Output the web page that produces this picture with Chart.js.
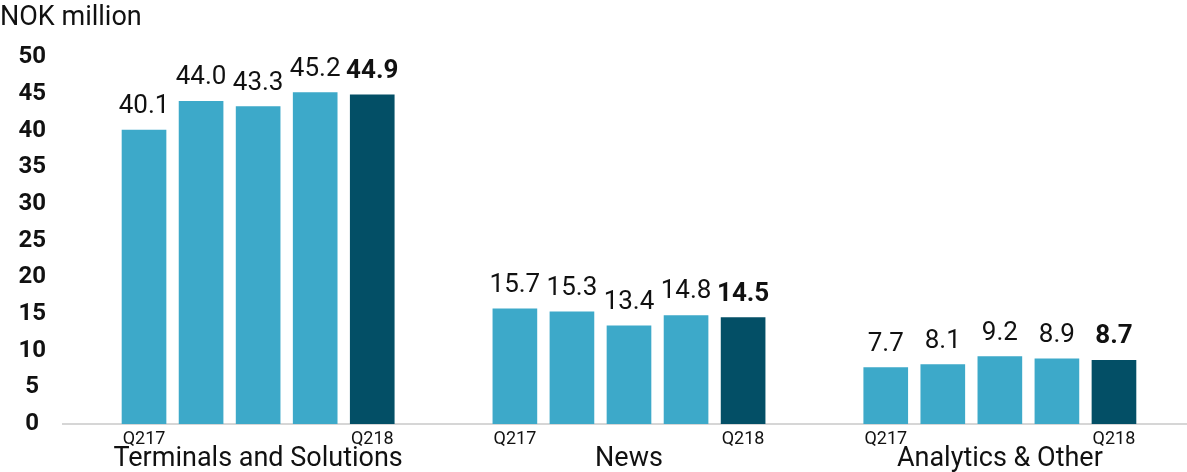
<!DOCTYPE html>
<html>
<head>
<meta charset="utf-8">
<script src="https://cdn.jsdelivr.net/npm/chart.js@4/dist/chart.umd.min.js"></script>
<style>
  html, body { margin: 0; padding: 0; background: #fff; }
  #wrap { width: 1187px; height: 472px; }
</style>
</head>
<body>
<div id="wrap"><canvas id="revenue"></canvas></div>
<script>
// Revenue by segment, NOK million, Q2 2017 - Q2 2018
const SEGMENTS = ['Terminals and Solutions', 'News', 'Analytics & Other'];
const QUARTER_LABELS = ['Q217', '', '', '', 'Q218'];
const TERMINALS = [40.1, 44.0, 43.3, 45.2, 44.9];
const NEWS = [15.7, 15.3, 13.4, 14.8, 14.5];
const ANALYTICS = [7.7, 8.1, 9.2, 8.9, 8.7];
const Y_TICKS = [0, 5, 10, 15, 20, 25, 30, 35, 40, 45, 50];

const COLOR_PAST = '#3DA9C9';
const COLOR_CURRENT = '#034F66';
const FONT = 'Roboto, "Liberation Sans", sans-serif';

// five bars per segment, segments separated by a wider gap
const GROUP_STEP = 6.5;
const seriesBySegment = [TERMINALS, NEWS, ANALYTICS];

const points = [];
const colors = [];
seriesBySegment.forEach((values, g) => {
    values.forEach((v, q) => {
        points.push({ x: g * GROUP_STEP + q, y: v, q: q });
        colors.push(q === values.length - 1 ? COLOR_CURRENT : COLOR_PAST);
    });
});

// value above each bar, latest quarter in bold
const valueLabels = {
    id: 'valueLabels',
    afterDatasetsDraw(chart) {
        const ctx = chart.ctx;
        const meta = chart.getDatasetMeta(0);
        ctx.save();
        ctx.fillStyle = '#111';
        ctx.textAlign = 'center';
        ctx.textBaseline = 'alphabetic';
        meta.data.forEach((bar, i) => {
            const p = points[i];
            ctx.font = (p.q === QUARTER_LABELS.length - 1 ? 'bold ' : '') + '26px ' + FONT;
            ctx.fillText(p.y.toFixed(1), bar.x, bar.y - 17);
        });
        ctx.restore();
    }
};

// quarter marks and segment names under the axis
const segmentLabels = {
    id: 'segmentLabels',
    afterDraw(chart) {
        const ctx = chart.ctx;
        const x = chart.scales.x;
        const base = chart.chartArea.bottom;
        ctx.save();
        ctx.fillStyle = '#111';
        ctx.textAlign = 'center';
        ctx.textBaseline = 'alphabetic';
        SEGMENTS.forEach((name, g) => {
            ctx.font = '18px ' + FONT;
            QUARTER_LABELS.forEach((lbl, q) => {
                if (lbl) ctx.fillText(lbl, x.getPixelForValue(g * GROUP_STEP + q), base + 20);
            });
            ctx.font = '27px ' + FONT;
            ctx.fillText(name, x.getPixelForValue(g * GROUP_STEP + 2), base + 42);
        });
        ctx.restore();
    }
};

new Chart(document.getElementById('revenue'), {
    type: 'bar',
    data: {
        datasets: [{
            data: points,
            backgroundColor: colors,
            borderWidth: 0,
            barThickness: 44
        }]
    },
    options: {
        responsive: true,
        maintainAspectRatio: false,
        animation: false,
        layout: { padding: 0 },
        plugins: {
            legend: { display: false },
            tooltip: { enabled: false },
            title: {
                display: true,
                text: 'NOK million',
                align: 'start',
                color: '#111',
                font: { family: FONT, size: 27, weight: 'normal' },
                padding: { top: 2, bottom: 23 }
            }
        },
        scales: {
            x: {
                type: 'linear',
                offset: false,
                min: -1.42,
                max: 18.28,
                grid: { display: false, drawTicks: false, offset: false },
                border: { display: true, color: '#d6d6d6', width: 2 },
                ticks: { display: false },
                afterFit(scale) { scale.height = 48; }
            },
            y: {
                min: 0,
                max: 50,
                afterBuildTicks(scale) { scale.ticks = Y_TICKS.map(v => ({ value: v })); },
                grid: { display: false, drawTicks: false },
                border: { display: false },
                ticks: {
                    color: '#111',
                    crossAlign: 'center',
                    padding: 17,
                    font: { family: FONT, size: 24, weight: 'bold' }
                },
                afterFit(scale) { scale.width = 63; }
            }
        }
    },
    plugins: [valueLabels, segmentLabels]
});
</script>
</body>
</html>
